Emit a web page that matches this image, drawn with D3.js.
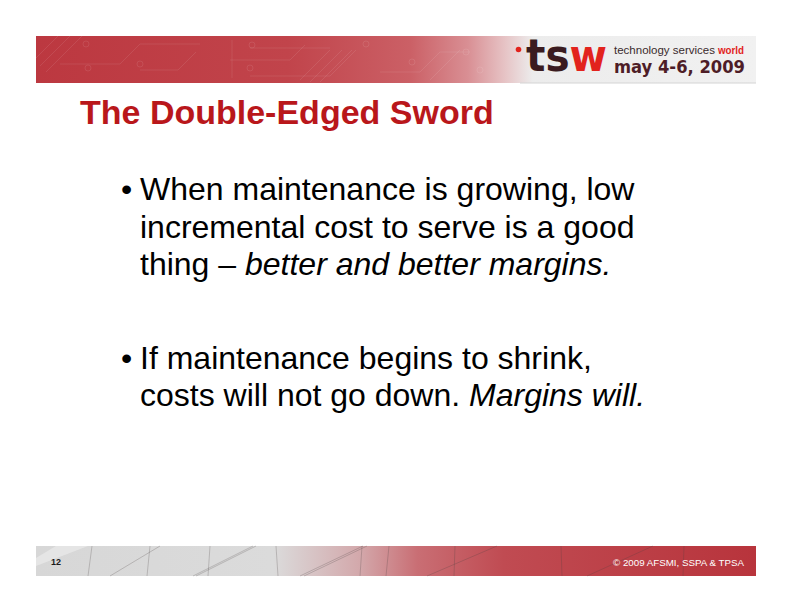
<!DOCTYPE html>
<html>
<head>
<meta charset="utf-8">
<script src="https://cdn.jsdelivr.net/npm/d3@7/dist/d3.min.js"></script>
<style>
	html, body { margin: 0; padding: 0; background: #ffffff; }
	svg { display: block; }
</style>
</head>
<body>
<script>
var WIDTH = 792, HEIGHT = 612;

// slide content
var SLIDE_TITLE = "The Double-Edged Sword";
var BULLET_LINES = [
	["When maintenance is growing, low", "incremental cost to serve is a good", "thing \u2013 better and better margins."],
	["If maintenance begins to shrink,", "costs will not go down. Margins will."]
];
var EMPHASIS = ["better and better margins.", "Margins will."];
var LOGO_MARK = ["ts", "w"];
var LOGO_TAGLINE = ["technology services", "world"];
var LOGO_DATE = "may 4-6, 2009";
var SLIDE_NUMBER = "12";
var COPYRIGHT = "\u00a9 2009 AFSMI, SSPA & TPSA";

var svg = d3.select("body").append("svg").attr("width", WIDTH).attr("height", HEIGHT);
var defs = svg.append("defs");

/*
Gradient helper
*/
function addGradient(id, stops) {
	var g = defs.append("linearGradient").attr("id", id).attr("x1", "0%").attr("x2", "100%").attr("y1", "0%").attr("y2", "0%");
	stops.forEach(function(s) {
		g.append("stop").attr("offset", s[0]).attr("stop-color", s[1]);
	});
}

addGradient("headerGrad", [["0%", "#bc3840"], ["35%", "#c1444b"], ["52%", "#cb6066"], ["60%", "#d98f94"], ["65%", "#e6c2c4"], ["69%", "#ececec"], ["100%", "#f1f1f1"]]);
addGradient("footerGrad", [["0%", "#d7d7d7"], ["33%", "#dbdbdb"], ["45%", "#d3a8ab"], ["53%", "#c96e74"], ["65%", "#c04b52"], ["100%", "#b8343c"]]);

/*
Header band with circuit traces
*/
var header = svg.append("g").attr("class", "header");
header.append("rect").attr("x", 36).attr("y", 36).attr("width", 720).attr("height", 47).attr("fill", "url(#headerGrad)");
header.append("line").attr("x1", 520).attr("x2", 756).attr("y1", 83).attr("y2", 83).attr("stroke", "#d4d4d4").attr("stroke-width", 1);

var traces = [
	"M 36 58 L 58 36", "M 40 66 L 70 36", "M 46 72 L 82 36",
	"M 60 64 L 120 64 L 140 44 L 200 44",
	"M 140 70 L 178 70 L 196 52",
	"M 230 60 L 290 60 L 305 45",
	"M 250 76 L 330 76 L 356 50",
	"M 232 40 L 232 78",
	"M 250 48 L 330 48",
	"M 300 80 L 330 50", "M 310 82 L 342 50", "M 320 82 L 352 50",
	"M 380 72 L 420 72 L 440 52 L 470 52",
	"M 430 80 L 460 50"
];
header.selectAll("path.trace").data(traces).enter().append("path")
	.attr("class", "trace").attr("d", function(d) { return d; })
	.attr("fill", "none").attr("stroke", "rgba(255,255,255,0.09)").attr("stroke-width", 1);
var pads = [[86, 44], [88, 68], [140, 64], [252, 45], [250, 68], [366, 44], [412, 62], [466, 52], [480, 70]];
header.selectAll("circle.pad").data(pads).enter().append("circle")
	.attr("class", "pad").attr("cx", function(d) { return d[0]; }).attr("cy", function(d) { return d[1]; })
	.attr("r", 3).attr("fill", "none").attr("stroke", "rgba(255,255,255,0.09)").attr("stroke-width", 1);

/*
Logo
*/
var logo = svg.append("g").attr("class", "logo");
logo.append("circle").attr("cx", 518.5).attr("cy", 49.5).attr("r", 2.8).attr("fill", "#e2231d");
var mark = logo.append("text").attr("x", 526).attr("y", 71)
	.attr("font-family", "DejaVu Sans").attr("font-weight", "bold").attr("font-size", 44)
	.attr("textLength", 81).attr("lengthAdjust", "spacingAndGlyphs");
mark.append("tspan").attr("fill", "#3a1b20").text(LOGO_MARK[0]);
mark.append("tspan").attr("fill", "#e2231d").text(LOGO_MARK[1]);

logo.append("text").attr("x", 614).attr("y", 53.5)
	.attr("font-family", "Liberation Sans, Arial, sans-serif").attr("font-size", 10.5)
	.attr("fill", "#3a2a2c").attr("textLength", 101).attr("lengthAdjust", "spacingAndGlyphs")
	.text(LOGO_TAGLINE[0]);
logo.append("text").attr("x", 718).attr("y", 53.5)
	.attr("font-family", "Liberation Sans, Arial, sans-serif").attr("font-size", 10.5).attr("font-weight", "bold")
	.attr("fill", "#e2231d").attr("textLength", 26).attr("lengthAdjust", "spacingAndGlyphs")
	.text(LOGO_TAGLINE[1]);

logo.append("text").attr("x", 614).attr("y", 72.5)
	.attr("font-family", "DejaVu Sans").attr("font-weight", "bold").attr("font-size", 17.5)
	.attr("fill", "#4e1d27").attr("textLength", 131).attr("lengthAdjust", "spacingAndGlyphs")
	.text(LOGO_DATE);

/*
Title
*/
svg.append("text").attr("x", 80).attr("y", 124)
	.attr("font-family", "Liberation Sans, Arial, sans-serif").attr("font-weight", "bold").attr("font-size", 34)
	.attr("fill", "#b9171b").text(SLIDE_TITLE);

/*
Bullets: one slot per line, a line and a half between bullets
*/
var lineY = d3.scaleLinear().domain([0, 1]).range([200, 237.5]);
var rows = [];
var slot = 0;
BULLET_LINES.forEach(function(lines, b) {
	lines.forEach(function(line, i) {
		rows.push({ text: line, first: i === 0, slot: slot });
		slot += 1;
	});
	slot += 1.5;
});

function splitEmphasis(line) {
	for (var k = 0; k < EMPHASIS.length; k++) {
		var at = line.indexOf(EMPHASIS[k]);
		if (at >= 0) {
			return [
				{ text: line.slice(0, at), em: false },
				{ text: EMPHASIS[k], em: true },
				{ text: line.slice(at + EMPHASIS[k].length), em: false }
			].filter(function(p) { return p.text.length > 0; });
		}
	}
	return [{ text: line, em: false }];
}

var body = svg.append("g").attr("class", "body")
	.attr("font-family", "Liberation Sans, Arial, sans-serif").attr("font-size", 32).attr("fill", "#000000");

body.selectAll("text.bullet").data(rows.filter(function(r) { return r.first; })).enter().append("text")
	.attr("class", "bullet").attr("x", 121).attr("y", function(d) { return lineY(d.slot); }).text("\u2022");

body.selectAll("text.line").data(rows).enter().append("text")
	.attr("class", "line").attr("x", 140).attr("y", function(d) { return lineY(d.slot); })
	.attr("xml:space", "preserve")
	.each(function(d) {
		var t = d3.select(this);
		splitEmphasis(d.text).forEach(function(p) {
			t.append("tspan").attr("font-style", p.em ? "italic" : "normal").text(p.text);
		});
	});

/*
Footer band
*/
var footer = svg.append("g").attr("class", "footer");
footer.append("rect").attr("x", 36).attr("y", 546).attr("width", 720).attr("height", 30).attr("fill", "url(#footerGrad)");
footer.append("path").attr("d", "M 36 566 L 36 558 L 56 546 L 88 546 Z").attr("fill", "rgba(255,255,255,0.35)");

var struts = [
	[88, 576, 92, 546], [110, 576, 160, 546], [147, 576, 150, 546], [193, 576, 253, 546],
	[196, 576, 256, 546], [208, 576, 210, 546], [278, 576, 276, 546], [300, 576, 363, 546],
	[304, 576, 367, 546], [360, 576, 362, 546], [386, 576, 389, 546], [427, 576, 497, 546],
	[454, 576, 455, 546], [562, 576, 561, 546], [587, 576, 653, 546], [683, 576, 684, 546]
];
footer.selectAll("line.strut").data(struts).enter().append("line")
	.attr("class", "strut")
	.attr("x1", function(d) { return d[0]; }).attr("y1", function(d) { return d[1]; })
	.attr("x2", function(d) { return d[2]; }).attr("y2", function(d) { return d[3]; })
	.attr("stroke", "rgba(70,60,60,0.35)").attr("stroke-width", 0.7);

footer.append("text").attr("x", 51).attr("y", 565)
	.attr("font-family", "Liberation Sans, Arial, sans-serif").attr("font-weight", "bold").attr("font-size", 9)
	.attr("fill", "#1a1a1a").text(SLIDE_NUMBER);

footer.append("text").attr("x", 613).attr("y", 566)
	.attr("font-family", "Liberation Sans, Arial, sans-serif").attr("font-size", 9.5)
	.attr("fill", "#ffffff").attr("textLength", 131).attr("lengthAdjust", "spacingAndGlyphs")
	.text(COPYRIGHT);
</script>
</body>
</html>
